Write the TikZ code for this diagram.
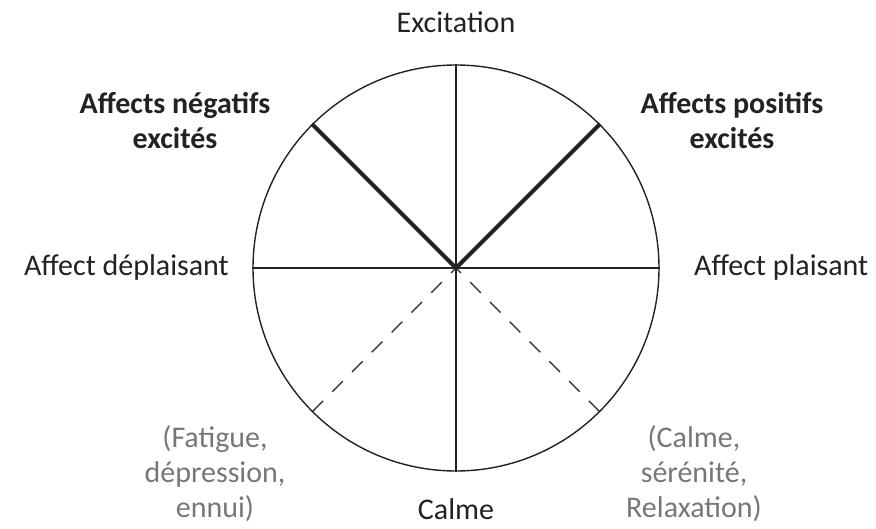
\documentclass[tikz,border=0pt]{standalone}
\usepackage{fontspec}
\setmainfont{Carlito}
\definecolor{txt}{HTML}{222222}
\definecolor{soft}{HTML}{777777}
\begin{document}
\begin{tikzpicture}[x=1pt,y=-1pt,
  lbl/.style={font=\fontsize{30}{35}\selectfont, text=txt, align=center, inner sep=0pt},
  boldlbl/.style={lbl, font=\fontsize{30}{35}\selectfont\bfseries},
  softlbl/.style={lbl, text=soft},
  thinline/.style={line width=1.4pt, draw=txt},
  thickline/.style={line width=4pt, draw=txt},
  dashline/.style={line width=1.4pt, draw=txt, dash pattern=on 15pt off 13pt, dash phase=8pt}]
\useasboundingbox (0,0) rectangle (876,529);
\coordinate (c) at (456,268);
\node[thinline, circle, minimum size=406pt, inner sep=0pt] (circ) at (c) {};
\draw[thinline] (circ.north) -- (circ.south);
\draw[thinline] (circ.west) -- (circ.east);
\draw[thickline] (c) -- (circ.135);
\draw[thickline] (c) -- (circ.45);
\draw[dashline] (c) -- (circ.225);
\draw[dashline] (c) -- (circ.315);
\node[lbl] (exc) at (456,22) {Excitation};
\node[boldlbl] (neg) at (175,121) {Affects négatifs\\excités};
\node[boldlbl] (pos) at (732,121) {Affects positifs\\excités};
\node[lbl, anchor=east] (depl) at (229,268) {Affect déplaisant};
\node[lbl, anchor=west] (plai) at (694,268) {Affect plaisant};
\node[softlbl] (fat) at (215,474) {(Fatigue,\\dépression,\\ennui)};
\node[softlbl] (cal) at (694,474) {(Calme,\\sérénité,\\Relaxation)};
\node[lbl] (calme) at (456,509) {Calme};
\end{tikzpicture}
\end{document}
